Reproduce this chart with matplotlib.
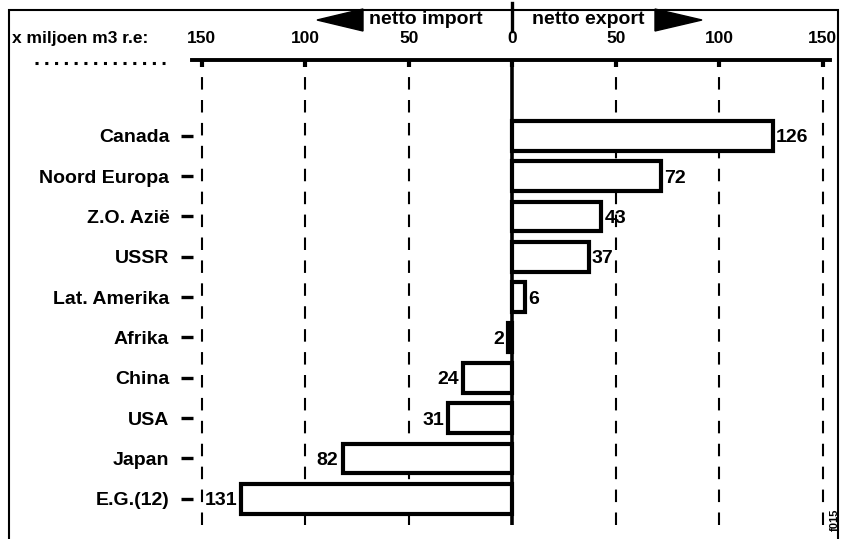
import numpy as np
import matplotlib
matplotlib.use("Agg")
import matplotlib.pyplot as plt
from matplotlib.patches import Polygon, Rectangle

plt.rcParams['font.family'] = ['Liberation Sans', 'DejaVu Sans']
plt.rcParams['font.weight'] = 'bold'

# data (x miljoen m3 r.e., + = netto export, - = netto import)
regions = ['Canada', 'Noord Europa', 'Z.O. Azië', 'USSR', 'Lat. Amerika',
           'Afrika', 'China', 'USA', 'Japan', 'E.G.(12)']
netto = [126, 72, 43, 37, 6, -2, -24, -31, -82, -131]
xticks = [-150, -100, -50, 0, 50, 100, 150]
xticklabels = ['150', '100', '50', '0', '50', '100', '150']

W, H = 842, 539
fig = plt.figure(figsize=(W / 100, H / 100), dpi=100)

# axes placed in pixel terms
left, right, top, bottom = 193, 830, 60, 525
ax = fig.add_axes([left / W, (H - bottom) / H, (right - left) / W, (bottom - top) / H])

ypos = np.arange(len(regions))
ax.barh(ypos, netto, height=0.74, color='white', edgecolor='black', linewidth=3, zorder=3)

# dashed gridlines and zero line
for xv in xticks:
    if xv == 0:
        ax.axvline(0, color='black', lw=2.6, zorder=4)
    else:
        ax.axvline(xv, color='black', lw=1.5, ls=(0, (6, 5)), zorder=1)

# value labels
for y, v in zip(ypos, netto):
    if v >= 0:
        ax.text(v + 1.5, y, str(v), ha='left', va='center_baseline', fontsize=14, zorder=5)
    else:
        ax.text(v - 2.0, y, str(abs(v)), ha='right', va='center_baseline', fontsize=14, zorder=5)

ax.set_xlim(-154.3, 153.5)
ax.set_ylim(9.65, -1.88)

ax.set_yticks(ypos)
ax.set_yticklabels(regions, fontsize=14, va='center_baseline')
ax.tick_params(axis='y', length=9, width=2.4, pad=8, direction='out')

ax.xaxis.set_ticks_position('top')
ax.set_xticks(xticks)
ax.set_xticklabels(xticklabels, fontsize=12.5)
ax.tick_params(axis='x', direction='in', length=5, width=3, pad=10)

for s in ['left', 'right', 'bottom']:
    ax.spines[s].set_visible(False)
ax.spines['top'].set_linewidth(2.8)
ax.spines['top'].set_bounds(-155, 153.5)

# unit label with dotted underline
fig.text(12 / W, (H - 38) / H, 'x miljoen m3 r.e:', ha='left', va='center', fontsize=12.5)
fig.add_artist(plt.Line2D([35 / W, 165 / W], [(H - 63) / H] * 2, color='black',
                          lw=2.2, ls=(0, (1, 2.2))))

# header: netto import / netto export with arrows
fig.text(483 / W, (H - 20) / H, 'netto import', ha='right', va='center', fontsize=14)
fig.text(532 / W, (H - 20) / H, 'netto export', ha='left', va='center', fontsize=14)
fig.add_artist(plt.Line2D([512 / W, 512 / W], [(H - 3) / H, (H - 31) / H], color='black', lw=2.4))

def px(x, y):
    return (x / W, (H - y) / H)

fig.add_artist(Polygon([px(317, 20), px(363, 9), px(363, 31)], closed=True,
                       facecolor='black', edgecolor='black', transform=fig.transFigure))
fig.add_artist(Polygon([px(702, 20), px(655, 9), px(655, 31)], closed=True,
                       facecolor='black', edgecolor='black', transform=fig.transFigure))

# frame around the chart
fig.add_artist(Rectangle(px(9, 545), 829 / W, 535 / H, fill=False, edgecolor='black',
                         lw=1.5, transform=fig.transFigure))

fig.text(835 / W, (H - 520) / H, 'f015', rotation=90, ha='center', va='center', fontsize=8)

fig.savefig('out.png', dpi=100)
